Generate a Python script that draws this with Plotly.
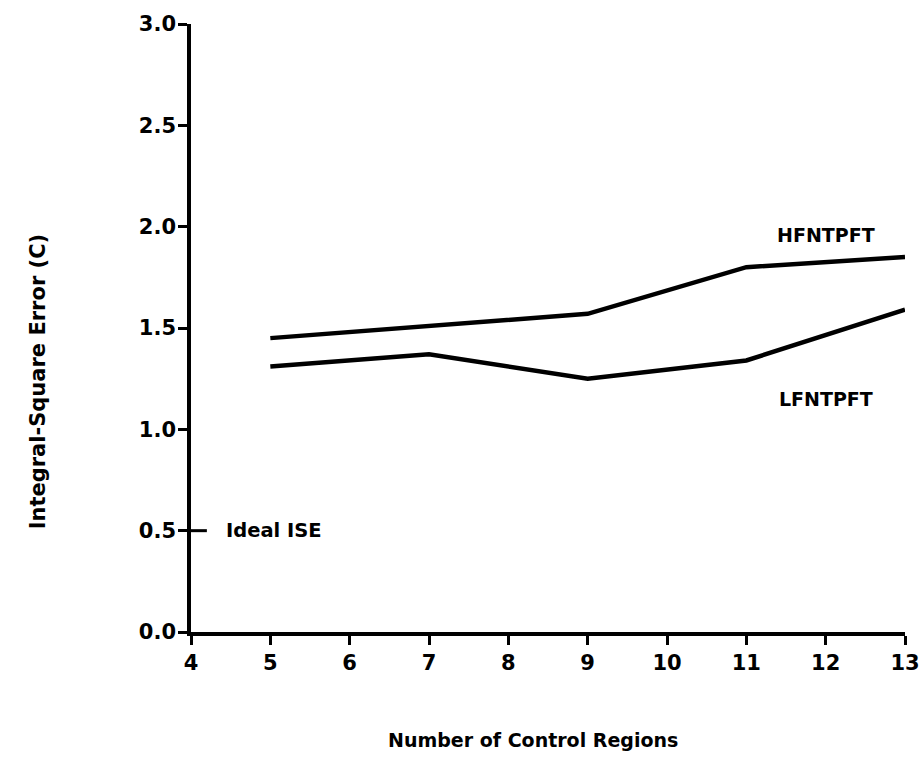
import plotly.graph_objects as go

# Number of control regions on the horizontal axis
regions = [5, 7, 9, 11, 13]

# Integral-square error (C) for each filter configuration
hfntpft = [1.45, 1.51, 1.57, 1.80, 1.85]
lfntpft = [1.31, 1.37, 1.25, 1.34, 1.59]

# Reference level for the ideal integral-square error
ideal_ise = 0.5

x_ticks = [4, 5, 6, 7, 8, 9, 10, 11, 12, 13]
y_ticks = [0.0, 0.5, 1.0, 1.5, 2.0, 2.5, 3.0]
y_tick_text = [f"{v:.1f}" for v in y_ticks]

FONT = "DejaVu Sans, Verdana, sans-serif"
INK = "#000000"


def bold(s):
    return f"<b>{s}</b>"


fig = go.Figure()

for name, values in (("HFNTPFT", hfntpft), ("LFNTPFT", lfntpft)):
    fig.add_trace(go.Scatter(
        x=regions, y=values, mode="lines", name=name,
        line=dict(color=INK, width=4.5), showlegend=False,
        hoverinfo="x+y+name",
    ))

# short inward mark flagging the ideal ISE level
fig.add_trace(go.Scatter(
    x=[4, 4.2], y=[ideal_ise, ideal_ise], mode="lines",
    line=dict(color=INK, width=3), showlegend=False, hoverinfo="skip",
))

label_font = dict(family=FONT, size=19, color=INK)
fig.add_annotation(x=12.0, y=1.96, text=bold("HFNTPFT"), showarrow=False,
                   font=label_font)
fig.add_annotation(x=12.0, y=1.15, text=bold("LFNTPFT"), showarrow=False,
                   font=label_font)
fig.add_annotation(x=4.42, y=ideal_ise, text=bold("Ideal ISE"),
                   showarrow=False, xanchor="left", yanchor="middle",
                   font=dict(family=FONT, size=19.5, color=INK))

# axis titles
fig.add_annotation(xref="paper", yref="paper", x=0.479, y=-0.178,
                   xanchor="center", yanchor="middle",
                   text=bold("Number of Control Regions"), showarrow=False,
                   font=dict(family=FONT, size=19, color=INK))
fig.add_annotation(xref="paper", yref="paper", x=-0.214, y=0.411,
                   xanchor="center", yanchor="middle",
                   text=bold("Integral-Square Error (C)"), showarrow=False,
                   textangle=-90, font=dict(family=FONT, size=21, color=INK))

axis_common = dict(
    showgrid=False, zeroline=False, showline=True, linecolor=INK,
    linewidth=3.5, ticks="outside", ticklen=9, tickwidth=3, tickcolor=INK,
    tickfont=dict(family=FONT, size=21, color=INK), fixedrange=True,
    automargin=False,
)

fig.update_xaxes(range=[4, 13], tickvals=x_ticks,
                 ticktext=[bold(v) for v in x_ticks], **axis_common)
fig.update_yaxes(range=[0, 3], tickvals=y_ticks,
                 ticktext=[bold(t) for t in y_tick_text],
                 ticklabelstandoff=-2, **axis_common)

fig.update_layout(
    width=922, height=762,
    margin=dict(l=191, r=17, t=24, b=130),
    plot_bgcolor="white", paper_bgcolor="white",
    font=dict(family=FONT, color=INK),
)

fig.write_html("out.html")
